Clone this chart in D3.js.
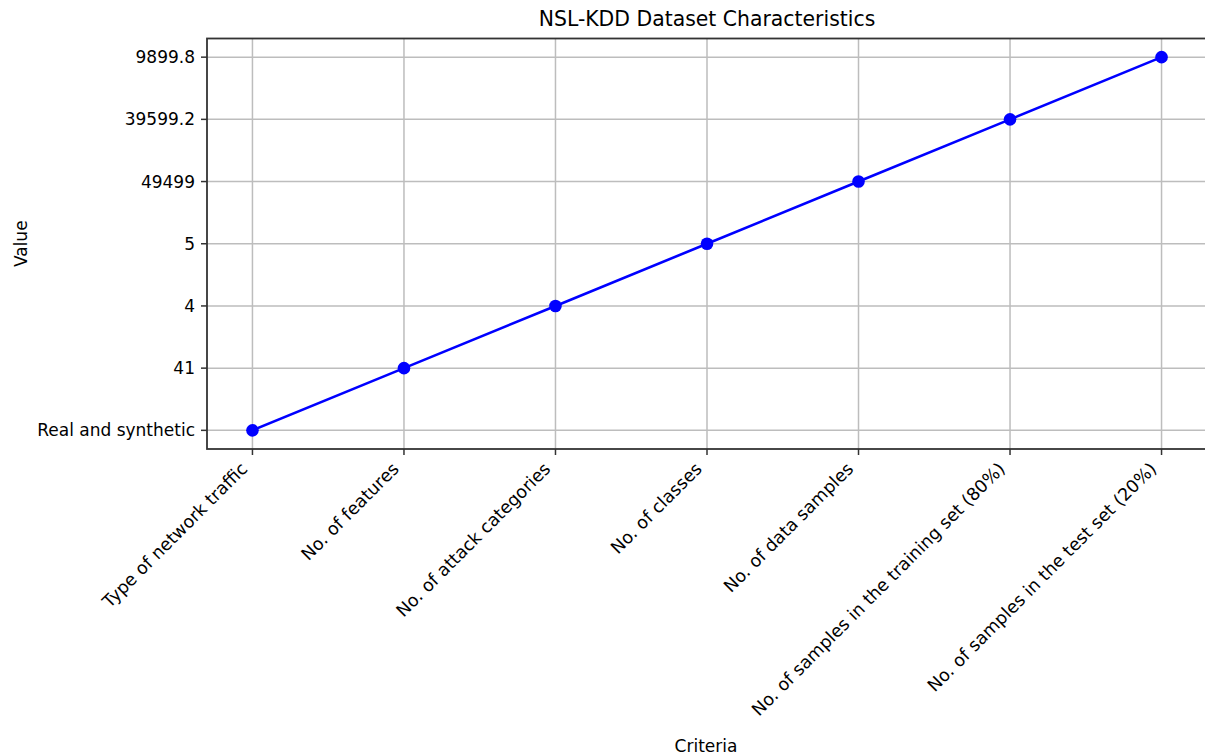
<!DOCTYPE html>
<html>
<head>
<meta charset="utf-8">
<script src="https://cdn.jsdelivr.net/npm/d3@7"></script>
<style>
  html, body { margin: 0; padding: 0; background: #fff; }
  text { font-family: "DejaVu Sans", sans-serif; fill: #000; }
</style>
</head>
<body>
<svg id="chart" width="1205" height="755"></svg>
<script>
const criteria = [
  "Type of network traffic",
  "No. of features",
  "No. of attack categories",
  "No. of classes",
  "No. of data samples",
  "No. of samples in the training set (80%)",
  "No. of samples in the test set (20%)"
];
const values = ["Real and synthetic", "41", "4", "5", "49499", "39599.2", "9899.8"];
const yTickLabels = ["Real and synthetic", "41", "4", "5", "49499", "39599.2", "9899.8"];
const titleText = "NSL-KDD Dataset Characteristics";
const xLabel = "Criteria";
const yLabel = "Value";

(function () {
const svg = d3.select("#chart");
const pL = 207, pR = 1207, pT = 38.5, pB = 449;
const fs = "17px";

const xIdx = d3.scaleLinear().domain([-0.3, criteria.length - 1 + 0.3]).range([pL, pR]);
const yIdx = d3.scaleLinear().domain([-0.3, yTickLabels.length - 1 + 0.3]).range([pB, pT]);
const xPos = c => xIdx(criteria.indexOf(c));
const yPos = v => yIdx(yTickLabels.indexOf(v));

// grid
const g = svg.append("g");
g.selectAll(".vgrid").data(criteria).enter().append("line")
  .attr("x1", d => xPos(d)).attr("x2", d => xPos(d))
  .attr("y1", pT).attr("y2", pB)
  .attr("stroke", "#bdbdbd").attr("stroke-width", 1.5);
g.selectAll(".hgrid").data(yTickLabels).enter().append("line")
  .attr("y1", d => yPos(d)).attr("y2", d => yPos(d))
  .attr("x1", pL).attr("x2", pR)
  .attr("stroke", "#bdbdbd").attr("stroke-width", 1.5);

// line
const line = d3.line().x((d, i) => xPos(criteria[i])).y(d => yPos(d));
svg.append("path").datum(values)
  .attr("d", line).attr("fill", "none")
  .attr("stroke", "#0000ff").attr("stroke-width", 2.6);
svg.selectAll(".dot").data(values).enter().append("circle")
  .attr("cx", (d, i) => xPos(criteria[i])).attr("cy", d => yPos(d))
  .attr("r", 6.3).attr("fill", "#0000ff");

// spines
svg.append("rect").attr("x", pL).attr("y", pT)
  .attr("width", pR - pL).attr("height", pB - pT)
  .attr("fill", "none").attr("stroke", "#333").attr("stroke-width", 1.8);

// x ticks
svg.selectAll(".xt").data(criteria).enter().append("line")
  .attr("x1", d => xPos(d)).attr("x2", d => xPos(d))
  .attr("y1", pB).attr("y2", pB + 6)
  .attr("stroke", "#333").attr("stroke-width", 1.5);
svg.selectAll(".xl").data(criteria).enter().append("text")
  .attr("transform", d => `translate(${xPos(d) - 4},${pB + 21}) rotate(-45)`)
  .attr("text-anchor", "end")
  .style("font-size", "17.5px")
  .text(d => d);

// y ticks
svg.selectAll(".yt").data(yTickLabels).enter().append("line")
  .attr("y1", d => yPos(d)).attr("y2", d => yPos(d))
  .attr("x1", pL - 6).attr("x2", pL)
  .attr("stroke", "#333").attr("stroke-width", 1.5);
svg.selectAll(".yl").data(yTickLabels).enter().append("text")
  .attr("x", pL - 12).attr("y", d => yPos(d))
  .attr("dy", "0.35em").attr("text-anchor", "end")
  .style("font-size", fs)
  .text(d => d);

// title & labels
svg.append("text").attr("x", (pL + pR) / 2).attr("y", 26)
  .attr("text-anchor", "middle").style("font-size", "20.4px").text(titleText);
svg.append("text").attr("x", 706).attr("y", 752)
  .attr("text-anchor", "middle").style("font-size", fs).text(xLabel);
svg.append("text").attr("transform", `translate(27,${(pT + pB) / 2}) rotate(-90)`)
  .attr("text-anchor", "middle").style("font-size", fs).text(yLabel);
})();
</script>
</body>
</html>
